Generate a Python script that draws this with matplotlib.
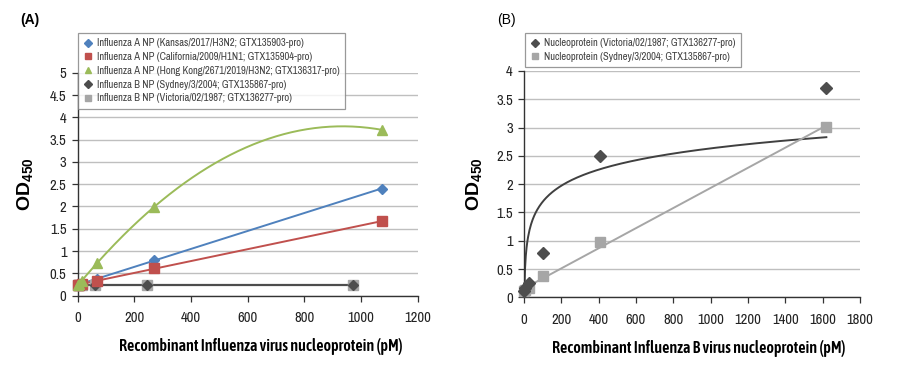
import numpy as np
import matplotlib
matplotlib.use('Agg')
import matplotlib.pyplot as plt
from matplotlib.lines import Line2D
from matplotlib.ticker import MultipleLocator, FuncFormatter

NARROW = ['Archivo Narrow', 'Liberation Sans', 'DejaVu Sans']
NARROW_BOLD = ['Asap Condensed', 'Liberation Sans', 'DejaVu Sans']
plt.rcParams['font.family'] = NARROW
plt.rcParams['mathtext.fontset'] = 'custom'
plt.rcParams['mathtext.rm'] = 'Liberation Sans'
plt.rcParams['mathtext.bf'] = 'Liberation Sans:bold'

# --- panel A data (pM vs OD450) ---
conc_a = [1.05, 4.2, 16.8, 67, 268, 1073]
kansas = [0.24, 0.25, 0.28, 0.37, 0.80, 2.40]
california = [0.24, 0.25, 0.27, 0.33, 0.61, 1.67]
hongkong = [0.25, 0.26, 0.33, 0.73, 1.98, 3.72]
conc_a_fluB = [0.95, 3.8, 15.2, 61, 243, 973]
sydney_a = [0.25, 0.25, 0.25, 0.25, 0.25, 0.25]
victoria_a = [0.24, 0.24, 0.24, 0.24, 0.24, 0.24]

# --- panel B data ---
conc_b = [1.6, 6.3, 25, 101, 405, 1620]
victoria_b = [0.12, 0.17, 0.26, 0.79, 2.50, 3.70]
sydney_b = [0.11, 0.13, 0.17, 0.38, 0.97, 3.01]
# logarithmic trendline shown for Victoria (y = a*ln(x) + b)
victoria_log_trend = (0.41, -0.20)

labels_a = [
    'Influenza A NP (Kansas/2017/H3N2; GTX135903-pro)',
    'Influenza A NP (California/2009/H1N1; GTX135904-pro)',
    'Influenza A NP (Hong Kong/2671/2019/H3N2; GTX136317-pro)',
    'Influenza B NP (Sydney/3/2004; GTX135867-pro)',
    'Influenza B NP (Victoria/02/1987; GTX136277-pro)',
]
labels_b = [
    'Nucleoprotein (Victoria/02/1987; GTX136277-pro)',
    'Nucleoprotein (Sydney/3/2004; GTX135867-pro)',
]

BLUE, RED, GREEN = '#4F81BD', '#C0504D', '#9BBB59'
DARK, LIGHT = '#4D4D4D', '#A6A6A6'
GRID = '#BFBFBF'

fig = plt.figure(figsize=(9, 3.76), dpi=100)
ax_a = fig.add_axes([0.0863, 0.2136, 0.3778, 0.5930])
ax_b = fig.add_axes([0.5822, 0.2093, 0.3733, 0.6019])


def style_axes(ax, xmax, ymax):
    ax.set_xlim(0, xmax)
    ax.set_ylim(0, ymax)
    ax.xaxis.set_major_locator(MultipleLocator(200))
    ax.yaxis.set_major_locator(MultipleLocator(0.5))
    ax.yaxis.set_major_formatter(FuncFormatter(lambda v, p: '%g' % v))
    ax.grid(axis='y', color=GRID, linewidth=1.0)
    ax.set_axisbelow(True)
    for s in ('top', 'right'):
        ax.spines[s].set_visible(False)
    for s in ('left', 'bottom'):
        ax.spines[s].set_color('#333333')
        ax.spines[s].set_linewidth(1.0)
    ax.tick_params(axis='both', direction='out', length=4, width=0.9,
                   color='#333333', labelsize=10.5, labelcolor='#222222', pad=4)
    ax.tick_params(axis='x', pad=7)


def trend(x, y, deg, x0=0):
    coef = np.polyfit(x, y, deg)
    xs = np.linspace(x0, max(x), 200)
    return xs, np.polyval(coef, xs)


def make_legend(handles, labels, x, y):
    leg = fig.legend(handles, labels, loc='upper left',
                     bbox_to_anchor=(x / 900, 1 - y / 376), borderaxespad=0,
                     fontsize=7.6, frameon=True, fancybox=False,
                     edgecolor='#808080', handlelength=0.8, handletextpad=0.5,
                     labelspacing=0.36, borderpad=0.5, labelcolor='#404040')
    leg.get_frame().set_linewidth(0.9)
    return leg


# panel A
style_axes(ax_a, 1200, 5)
ax_a.plot(*trend(conc_a, kansas, 1), color=BLUE, lw=1.4, zorder=2)
ax_a.plot(*trend(conc_a, california, 1), color=RED, lw=1.4, zorder=2)
ax_a.plot(*trend(conc_a, hongkong, 2), color=GREEN, lw=1.4, zorder=2)
ax_a.plot(*trend(conc_a_fluB, victoria_a, 1), color=LIGHT, lw=1.4, zorder=2)
ax_a.plot(*trend(conc_a_fluB, sydney_a, 1), color=DARK, lw=1.6, zorder=2)
ax_a.plot(conc_a_fluB, victoria_a, 's', color=LIGHT, ms=7.5, ls='none', zorder=3, clip_on=False)
ax_a.plot(conc_a_fluB, sydney_a, 'D', color=DARK, ms=5.5, ls='none', zorder=4, clip_on=False)
ax_a.plot(conc_a, kansas, 'D', color=BLUE, ms=5.5, ls='none', zorder=5, clip_on=False)
ax_a.plot(conc_a, california, 's', color=RED, ms=6.5, ls='none', zorder=5, clip_on=False)
ax_a.plot(conc_a, hongkong, '^', color=GREEN, ms=7, ls='none', zorder=5, clip_on=False)

ax_a.set_ylabel(r'$\mathbf{OD_{450}}$', fontsize=14)
ax_a.yaxis.set_label_coords(-0.125, 0.5)
ax_a.set_xlabel('Recombinant Influenza virus nucleoprotein (pM)', fontsize=11.5,
                fontweight='semibold', family=NARROW_BOLD)
ax_a.xaxis.set_label_coords(0.54, -0.19)

handles_a = [
    Line2D([], [], marker='D', color=BLUE, ls='none', ms=4),
    Line2D([], [], marker='s', color=RED, ls='none', ms=4.5),
    Line2D([], [], marker='^', color=GREEN, ls='none', ms=5),
    Line2D([], [], marker='D', color=DARK, ls='none', ms=4),
    Line2D([], [], marker='s', color=LIGHT, ls='none', ms=4.5),
]
make_legend(handles_a, labels_a, 78, 33)

# panel B
style_axes(ax_b, 1800, 4)
a_log, b_log = victoria_log_trend
xs = np.linspace(min(conc_b), max(conc_b), 400)
ax_b.plot(xs, a_log * np.log(xs) + b_log, color='#404040', lw=1.4, zorder=2)
ax_b.plot(*trend(conc_b, sydney_b, 1), color=LIGHT, lw=1.4, zorder=2)
ax_b.plot(conc_b, sydney_b, 's', color=LIGHT, ms=7, ls='none', zorder=3, clip_on=False)
ax_b.plot(conc_b, victoria_b, 'D', color=DARK, ms=6, ls='none', zorder=4, clip_on=False)

ax_b.set_ylabel(r'$\mathbf{OD_{450}}$', fontsize=14)
ax_b.yaxis.set_label_coords(-0.12, 0.5)
ax_b.set_xlabel('Recombinant Influenza B virus nucleoprotein (pM)', fontsize=11.5,
                fontweight='semibold', family=NARROW_BOLD)
ax_b.xaxis.set_label_coords(0.52, -0.19)

handles_b = [
    Line2D([], [], marker='D', color=DARK, ls='none', ms=4),
    Line2D([], [], marker='s', color=LIGHT, ls='none', ms=4.5),
]
make_legend(handles_b, labels_b, 525, 33)

fig.text(20 / 900, 1 - 20 / 376, '(A)', fontsize=10, fontweight='bold',
         family=['Liberation Sans', 'DejaVu Sans'], va='center', ha='left')
fig.text(497 / 900, 1 - 20 / 376, '(B)', fontsize=10,
         family=['Liberation Sans', 'DejaVu Sans'], va='center', ha='left')

fig.savefig('out.png', dpi=100)
